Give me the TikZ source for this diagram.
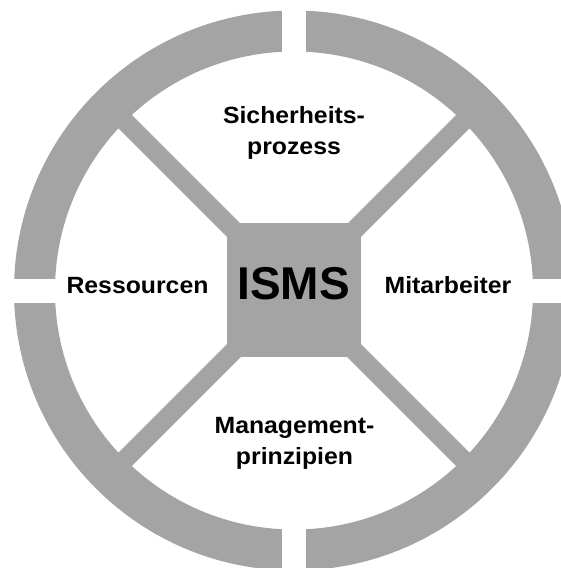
\documentclass[tikz,border=0pt]{standalone}
\usepackage{fontspec}
\setmainfont{Liberation Sans}
\newfontfamily\lblfont[FakeStretch=1.055]{Liberation Sans}
\definecolor{ringgray}{RGB}{164,164,164}
\begin{document}
\begin{tikzpicture}[x=1pt,y=-1pt,
  ringpart/.style={fill=ringgray},
  spoke/.style={draw=ringgray,line width=19pt},
  gapcut/.style={fill=white},
  lbl/.style={font=\lblfont\bfseries\fontsize{23.5}{30.5}\selectfont,align=center,inner sep=0pt,anchor=base},
  title/.style={font=\bfseries\fontsize{46}{50}\selectfont,inner sep=0pt,anchor=base}]
\useasboundingbox (0,0) rectangle (561,568);
\coordinate (c) at (294,290.5);
% ring
\fill[ringpart,even odd rule] (c) circle[radius=280] (c) circle[radius=239];
% gaps
\fill[gapcut] (282.25,0) rectangle (305.75,60);
\fill[gapcut] (282.25,520) rectangle (305.75,575);
\fill[gapcut] (0,279) rectangle (62,302.5);
\fill[gapcut] (525,279) rectangle (580,302.5);
% spokes
\draw[spoke] (c) -- ++(45:262);
\draw[spoke] (c) -- ++(135:262);
\draw[spoke] (c) -- ++(225:262);
\draw[spoke] (c) -- ++(315:262);
% centre square
\fill[ringpart] (226.7,223.3) rectangle (361,357.2);
% texts
\node[title] (isms) at (293.5,299.5) {ISMS};
\node[lbl] (top) at (294,154) {Sicherheits-\\prozess};
\node[lbl] (left) at (137.5,293.4) {Ressourcen};
\node[lbl] (right) at (448,293.4) {Mitarbeiter};
\node[lbl] (bottom) at (294.5,464) {Management-\\prinzipien};
\end{tikzpicture}
\end{document}
